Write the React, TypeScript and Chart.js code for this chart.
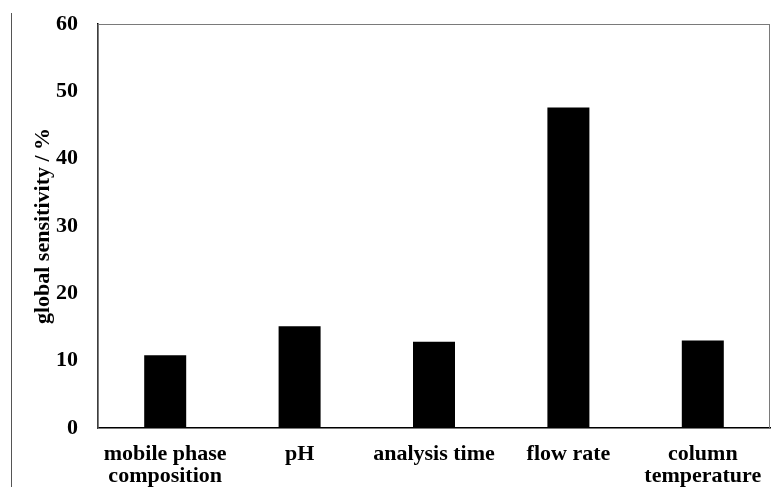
import React, { useEffect, useRef } from "react";
import { Chart, registerables } from "chart.js";

Chart.register(...registerables);

const categories: (string | string[])[] = [
  ["mobile phase", "composition"],
  "pH",
  "analysis time",
  "flow rate",
  ["column", "temperature"],
];
const sensitivity: number[] = [10.8, 15.1, 12.8, 47.6, 13.0];
const yTicks: number[] = [0, 10, 20, 30, 40, 50, 60];
const yTitle = "global sensitivity / %";

const FONT = "'Liberation Serif', 'Times New Roman', serif";

const framePlugin = {
  id: "frame",
  beforeDatasetsDraw(chart: any) {
    const { ctx, chartArea } = chart;
    ctx.save();
    ctx.strokeStyle = "#7a7a7a";
    ctx.lineWidth = 1;
    ctx.strokeRect(chartArea.left, chartArea.top + 0.5, chartArea.right - chartArea.left - 0.5, chartArea.bottom - chartArea.top);
    ctx.restore();
  },
  afterDraw(chart: any) {
    const { ctx } = chart;
    ctx.save();
    ctx.strokeStyle = "#555";
    ctx.lineWidth = 1;
    ctx.beginPath();
    ctx.moveTo(11.5, 13);
    ctx.lineTo(11.5, 487);
    ctx.stroke();
    ctx.restore();
  },
};

export default function App() {
  const ref = useRef<HTMLCanvasElement | null>(null);
  useEffect(() => {
    if (!ref.current) return;
    const chart = new Chart(ref.current, {
      type: "bar",
      data: {
        labels: categories,
        datasets: [
          {
            data: sensitivity,
            backgroundColor: "#000",
            borderWidth: 0,
            barPercentage: 0.3125,
            categoryPercentage: 1,
          },
        ],
      },
      plugins: [framePlugin],
      options: {
        animation: false,
        responsive: true,
        maintainAspectRatio: false,
        layout: { padding: { top: 24, right: 7, left: 0, bottom: 0 } },
        plugins: { legend: { display: false }, tooltip: { enabled: false } },
        scales: {
          x: {
            grid: { display: false, drawTicks: false },
            border: { display: true, color: "#000", width: 1.5 },
            ticks: {
              color: "#000",
              font: { family: FONT, size: 22, weight: "bold", lineHeight: 1.0 },
              padding: 15,
              maxRotation: 0,
              autoSkip: false,
            },
            afterFit(scale: any) {
              scale.height = 59;
              scale.paddingLeft = 0;
              scale.paddingRight = 0;
            },
          },
          y: {
            min: 0,
            max: 60,
            afterBuildTicks(scale: any) {
              scale.ticks = yTicks.map((v) => ({ value: v }));
            },
            grid: { display: false, drawTicks: false },
            border: { display: true, color: "#000", width: 1.5 },
            ticks: {
              color: "#000",
              font: { family: FONT, size: 22, weight: "bold" },
              padding: 20,
            },
            title: {
              display: true,
              text: yTitle,
              color: "#000",
              font: { family: FONT, size: 22, weight: "bold" },
              padding: { top: 30, bottom: 0 },
            },
            afterFit(scale: any) {
              scale.width = 98;
              scale.paddingTop = 0;
              scale.paddingBottom = 0;
            },
          },
        },
      },
    });
    return () => chart.destroy();
  }, []);
  return (
    <div style={{ position: "fixed", left: 0, top: 0, width: 777, height: 487, background: "#fff" }}>
      <canvas ref={ref} />
    </div>
  );
}
